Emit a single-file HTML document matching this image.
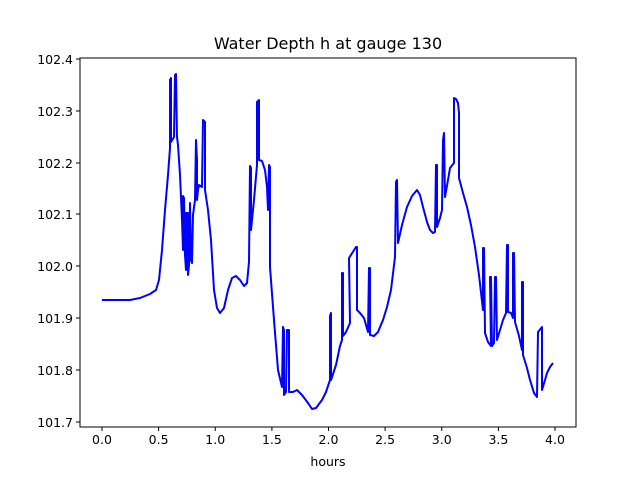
<!DOCTYPE html>
<html><head><style>body{margin:0;background:#fff}</style></head><body>
<svg width="640" height="480" xmlns="http://www.w3.org/2000/svg" font-family="DejaVu Sans, Liberation Sans, sans-serif" font-size="12.5">
<rect width="640" height="480" fill="#fff"/>
<polyline fill="none" stroke="#0000ff" stroke-width="2" stroke-linejoin="round" points="
102,300 130,300 140,298 150,294 156,290 159,280 162,250 165,210 168,175 170,148 170,80 171,78 171,142 174,137 175,75 176,74 177,137 178,145 180,175 182,220 183,250 183,196 184,198 185,255 186,270 186,213 188,213 188,275 189,265 190,203 191,260 192,263 193,215 195,200 196,140 197,160 197,200 198,190 199,185 202,187 203,120 205,122 205,190 208,210 211,240 214,290 217,308 220,313 224,308 228,290 232,278 236,276 240,280 244,286 247,283 249,262 250,166 251,168 251,230 254,200 257,165 257,102 259,100 259,160 262,161 265,170 267,187 268,210 269,165 270,167 270,267 274,320 278,370 282,387 283,327 284,330 284,395 286,392 287,330 289,330 289,392 293,392 297,390 302,395 308,403 312,409 316,408 322,400 326,392 330,380 330,316 331,313 331,380 336,365 340,346 342,340 342,273 343,273 343,336 346,332 350,323 349,258 356,247 357,247 357,310 360,313 364,318 368,332 369,268 370,268 370,335 374,336 378,332 383,320 387,307 391,290 395,257 396,182 397,180 398,243 402,225 407,207 412,196 417,190 420,195 423,207 427,222 430,230 433,233 435,232 436,165 437,165 437,227 440,218 442,210 443,140 444,133 445,197 448,180 450,168 454,163 454,98 456,99 458,103 459,113 459,178 463,193 467,207 471,225 475,247 479,275 483,310 483,248 484,248 485,333 488,342 491,346 490,277 491,277 492,346 494,343 495,277 496,277 497,340 500,330 503,320 506,313 507,245 508,245 508,312 511,313 513,318 513,253 514,253 515,322 519,336 522,350 522,282 523,282 523,355 527,368 530,380 534,393 537,397 538,332 542,327 542,390 545,380 547,373 550,367 553,363"/>
<rect x="80" y="58" width="496" height="369" fill="none" stroke="#000" stroke-width="1"/>
<g stroke="#000">
<line x1="102" y1="427" x2="102" y2="431"/><line x1="158.6" y1="427" x2="158.6" y2="431"/><line x1="215.25" y1="427" x2="215.25" y2="431"/><line x1="271.9" y1="427" x2="271.9" y2="431"/><line x1="328.5" y1="427" x2="328.5" y2="431"/><line x1="385.1" y1="427" x2="385.1" y2="431"/><line x1="441.75" y1="427" x2="441.75" y2="431"/><line x1="498.4" y1="427" x2="498.4" y2="431"/><line x1="555" y1="427" x2="555" y2="431"/>
<line x1="76" y1="59" x2="80" y2="59"/><line x1="76" y1="111" x2="80" y2="111"/><line x1="76" y1="163" x2="80" y2="163"/><line x1="76" y1="214" x2="80" y2="214"/><line x1="76" y1="266" x2="80" y2="266"/><line x1="76" y1="318" x2="80" y2="318"/><line x1="76" y1="370" x2="80" y2="370"/><line x1="76" y1="422" x2="80" y2="422"/>
</g>
<g text-anchor="middle">
<text x="102" y="444">0.0</text><text x="158.6" y="444">0.5</text><text x="215.25" y="444">1.0</text><text x="271.9" y="444">1.5</text><text x="328.5" y="444">2.0</text><text x="385.1" y="444">2.5</text><text x="441.75" y="444">3.0</text><text x="498.4" y="444">3.5</text><text x="555" y="444">4.0</text>
</g>
<g text-anchor="end">
<text x="73" y="64">102.4</text><text x="73" y="116">102.3</text><text x="73" y="168">102.2</text><text x="73" y="219">102.1</text><text x="73" y="271">102.0</text><text x="73" y="323">101.9</text><text x="73" y="375">101.8</text><text x="73" y="427">101.7</text>
</g>
<text x="328" y="466" text-anchor="middle">hours</text>
<text x="328" y="49" text-anchor="middle" font-size="16">Water Depth h at gauge 130</text>
</svg>
</body></html>
